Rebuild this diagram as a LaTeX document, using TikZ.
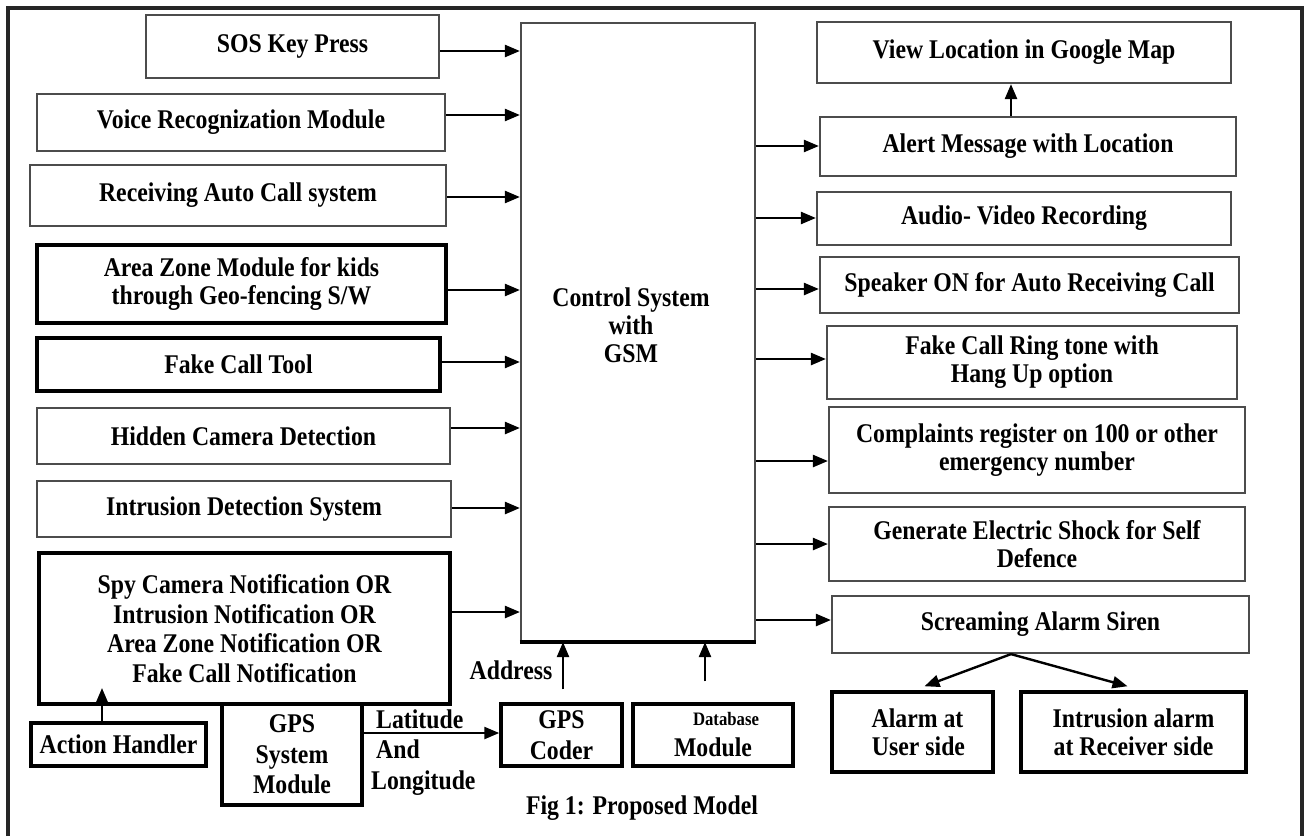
\documentclass[tikz,border=0pt]{standalone}
\usepackage{fontspec}
\setmainfont{Liberation Serif}[FakeStretch=0.88]
\usetikzlibrary{arrows.meta,calc}
\begin{document}
\begin{tikzpicture}[x=1pt,y=-1pt,
  every node/.style={font=\bfseries\fontsize{27}{28}\selectfont, align=center, inner sep=1pt},
  gbox/.style={draw=black!70, line width=2.2pt},
  kbox/.style={draw=black, line width=3.5pt},
  arr/.style={line width=2.4pt, -{Triangle[length=15pt,width=12pt]}},
  txt/.style={inner sep=0pt}
]
\useasboundingbox (0,0) rectangle (1308,836);
% outer frame
\draw[line width=4.5pt, black!85, line join=miter] (8,836) -- (8,8) -- (1302,8) -- (1302,836);

% left column
\node[gbox, minimum width=293pt, minimum height=63pt] (sos) at (292.5,46.5) {SOS Key Press};
\node[gbox, minimum width=408pt, minimum height=57pt] (voice) at (241,122.5) {Voice Recognization Module};
\node[gbox, minimum width=416pt, minimum height=61pt] (recv) at (238,195.5) {Receiving Auto Call system};
\node[kbox, minimum width=409pt, minimum height=78pt] (area) at (241.5,284) {Area Zone Module for kids\\through Geo-fencing S/W};
\node[kbox, minimum width=403pt, minimum height=53pt] (ftool) at (238.5,364.5) {Fake Call Tool};
\node[gbox, minimum width=413pt, minimum height=56pt] (hidden) at (243.5,436) {Hidden Camera Detection};
\node[gbox, minimum width=414pt, minimum height=56pt] (idet) at (244,509) {Intrusion Detection System};
\node[kbox, minimum width=411pt, minimum height=151pt, font=\bfseries\fontsize{27}{29.5}\selectfont] (spy) at (244.5,628.5) {Spy Camera Notification OR\\Intrusion Notification OR\\Area Zone Notification OR\\Fake Call Notification};
\node[kbox, minimum width=175pt, minimum height=43pt] (ah) at (118.5,744.5) {Action Handler};
\node[kbox, minimum width=140pt, minimum height=101pt, font=\bfseries\fontsize{27}{30.5}\selectfont] (gsys) at (292,754.5) {GPS\\System\\Module};
\node[kbox, minimum width=121pt, minimum height=62pt, font=\bfseries\fontsize{27}{31}\selectfont] (coder) at (561.5,735) {GPS\\Coder};
\node[kbox, minimum width=160pt, minimum height=62pt, font=\bfseries\fontsize{27}{31}\selectfont] (db) at (713,735) {{\fontsize{19}{20}\selectfont\hspace*{26pt}Database}\\Module};

% control
\node[gbox, minimum width=234pt, minimum height=618pt] (ctrl) at (638,332) {};
\draw[line width=3.5pt] (ctrl.south west) -- (ctrl.south east);
\node[txt] (ctrllabel) at (631,325) {Control System\\with\\GSM};

% right column
\node[gbox, minimum width=414pt, minimum height=61pt] (view) at (1024,52.5) {View Location in Google Map};
\node[gbox, minimum width=416pt, minimum height=59pt] (alert) at (1028,146.5) {Alert Message with Location};
\node[gbox, minimum width=414pt, minimum height=53pt] (audio) at (1024,218.5) {Audio- Video Recording};
\node[gbox, minimum width=419pt, minimum height=56pt] (speaker) at (1029.5,285) {Speaker ON for Auto Receiving Call};
\node[gbox, minimum width=410pt, minimum height=73pt] (ring) at (1032,362.5) {Fake Call Ring tone with\\Hang Up option};
\node[gbox, minimum width=416pt, minimum height=86pt] (compl) at (1037,450) {Complaints register on 100 or other\\emergency number};
\node[gbox, minimum width=416pt, minimum height=74pt] (shock) at (1037,544) {Generate Electric Shock for Self\\Defence};
\node[gbox, minimum width=417pt, minimum height=57pt] (scream) at (1040.5,624.5) {Screaming Alarm Siren};
\node[kbox, minimum width=161pt, minimum height=80pt] (user) at (912.5,732) {\hspace*{10pt}Alarm at\\\hspace*{12pt}User side};
\node[kbox, minimum width=225pt, minimum height=80pt] (ialarm) at (1133.5,732) {Intrusion alarm\\at Receiver side};

% labels
\node[txt] (addr) at (511,670) {Address};
\node[txt, anchor=west, align=left, font=\bfseries\fontsize{27}{30.5}\selectfont] (latlon) at (371,752.5) {\hspace*{5pt}Latitude\\\hspace*{5pt}And\\Longitude};
\node[txt] (caption) at (642,808) {Fig 1: Proposed Model};

% arrows into control
\foreach \n/\y in {sos/51, voice/115, recv/197, area/290, ftool/362, hidden/428, idet/508, spy/612}
  \draw[arr] (\n.east |- 0,\y) -- (ctrl.west |- 0,\y);
% arrows out of control
\foreach \n/\y in {alert/146, audio/218, speaker/289, ring/359, compl/461, shock/544, scream/620}
  \draw[arr] (ctrl.east |- 0,\y) -- (\n.west |- 0,\y);

\draw[arr] (1011,0 |- alert.north) -- (1011,0 |- view.south);
\draw[arr, shorten <=13pt] (563,0 |- coder.north) -- (563,0 |- ctrl.south);
\draw[arr, shorten <=21pt] (705,0 |- db.north) -- (705,0 |- ctrl.south);
\coordinate (ahtip) at (102,688);
\draw[arr] (102,0 |- ah.north) -- (ahtip);
\draw[arr] (gsys.east |- 0,733) -- (coder.west |- 0,733);
\draw[arr] (1011,0 |- scream.south) -- ($(user.north)+(12,-4)$);
\draw[arr] (1011,0 |- scream.south) -- ($(ialarm.north)+(-6,-4)$);
\end{tikzpicture}
\end{document}
